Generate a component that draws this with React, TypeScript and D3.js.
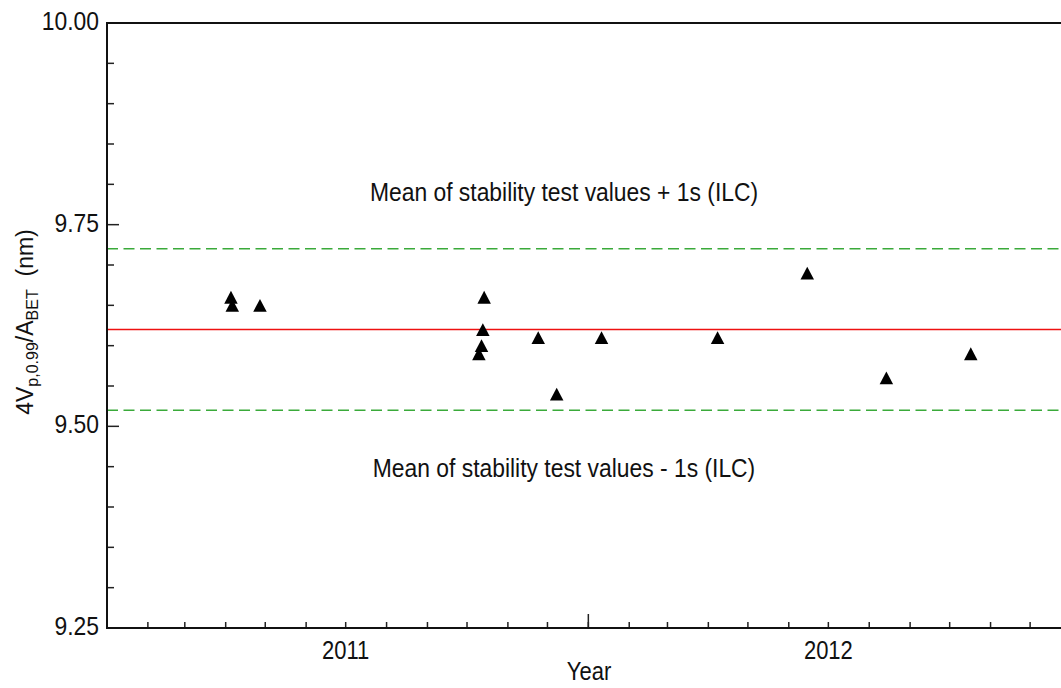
import React from "react";
import * as d3 from "d3";

// Measurement dates and the corresponding 4Vp/ABET values (nm)
const sampleDates: string[] = [
  "2011-04-05", "2011-04-06", "2011-04-27",
  "2011-10-14", "2011-10-13", "2011-10-12", "2011-10-10",
  "2011-11-24", "2011-12-08", "2012-01-11", "2012-04-08",
  "2012-06-15", "2012-08-14", "2012-10-17",
];
const sampleValues: number[] = [
  9.66, 9.65, 9.65,
  9.66, 9.62, 9.60, 9.59,
  9.61, 9.54, 9.61, 9.61,
  9.69, 9.56, 9.59,
];

// Reference lines
const meanValue = 9.62;
const upperLimit = 9.72;
const lowerLimit = 9.52;
const upperLabel = "Mean of stability test values + 1s (ILC)";
const lowerLabel = "Mean of stability test values - 1s (ILC)";

// Axes
const xDomain: string[] = ["2011-01-01", "2013-01-01"];
const yDomain: number[] = [9.25, 10.0];
const yTickLabels: number[] = [9.25, 9.5, 9.75, 10.0];
const yMinorStep = 0.05;
const yearLabels: number[] = [2011, 2012];

const W = 1061;
const H = 688;
const left = 107;
const right = 1071;
const top = 23;
const bottom = 628;
const FONT = "'Liberation Sans', Arial, sans-serif";
const SX = 0.88; // horizontal squeeze of the text glyphs

const parse = d3.utcParse("%Y-%m-%d");

export default function App() {
  const x = d3
    .scaleUtc()
    .domain(xDomain.map((d) => parse(d) as Date))
    .range([left, right]);
  const y = d3.scaleLinear().domain(yDomain).range([bottom, top]);

  const yMinor = d3.range(yDomain[0], yDomain[1] + 1e-9, yMinorStep);
  const monthTicks = d3.utcMonth.range(x.domain()[0], x.domain()[1]);
  const yearTicks = d3.utcYear.range(x.domain()[0], x.domain()[1]);

  const triangle = (cx: number, cy: number) => {
    const w = 13.5;
    const h = 12.8;
    return `M${cx},${cy - h / 2}L${cx + w / 2},${cy + h / 2}L${cx - w / 2},${cy + h / 2}Z`;
  };

  const hText = (
    key: string,
    tx: number,
    ty: number,
    text: string,
    anchor: "start" | "middle" | "end",
    size: number
  ) => (
    <text
      key={key}
      transform={`translate(${tx},${ty}) scale(${SX},1)`}
      textAnchor={anchor}
      fontSize={size}
      fontFamily={FONT}
      fill="#111"
    >
      {text}
    </text>
  );

  return (
    <svg
      width={W}
      height={H}
      style={{ position: "absolute", left: 0, top: 0, background: "#fff" }}
    >
      {/* reference lines */}
      <line
        x1={left}
        x2={right}
        y1={y(upperLimit)}
        y2={y(upperLimit)}
        stroke="#3aaa3a"
        strokeWidth={1.5}
        strokeDasharray="11,5.5"
      />
      <line
        x1={left}
        x2={right}
        y1={y(lowerLimit)}
        y2={y(lowerLimit)}
        stroke="#3aaa3a"
        strokeWidth={1.5}
        strokeDasharray="11,5.5"
      />
      <line
        x1={left}
        x2={right}
        y1={y(meanValue)}
        y2={y(meanValue)}
        stroke="#ee1111"
        strokeWidth={1.5}
      />

      {hText("ul", 564, 201, upperLabel, "middle", 26)}
      {hText("ll", 564, 477, lowerLabel, "middle", 26)}

      {/* data points */}
      {sampleDates.map((d, i) => (
        <path
          key={d + i}
          d={triangle(x(parse(d) as Date), y(sampleValues[i]))}
          fill="#000"
        />
      ))}

      {/* y axis ticks */}
      {yMinor.map((v, i) => {
        const isMajor = yTickLabels.some((t) => Math.abs(t - v) < 1e-6);
        return (
          <line
            key={"ym" + i}
            x1={left}
            x2={left + (isMajor ? 12 : 7)}
            y1={y(v)}
            y2={y(v)}
            stroke="#222"
            strokeWidth={1.5}
          />
        );
      })}
      {yTickLabels.map((v) =>
        hText("yl" + v, 99, y(v) + 7, d3.format(".2f")(v), "end", 26)
      )}

      {/* x axis ticks */}
      {monthTicks.map((m, i) => (
        <line
          key={"xm" + i}
          x1={x(m)}
          x2={x(m)}
          y1={bottom}
          y2={bottom - 6}
          stroke="#222"
          strokeWidth={1.5}
        />
      ))}
      {yearTicks.map((m, i) => (
        <line
          key={"xy" + i}
          x1={x(m)}
          x2={x(m)}
          y1={bottom}
          y2={bottom - 14}
          stroke="#222"
          strokeWidth={1.5}
        />
      ))}
      {yearLabels.map((yr) =>
        hText(
          "xl" + yr,
          x(d3.utcMonth.offset(new Date(Date.UTC(yr, 0, 1)), 6)),
          bottom + 31,
          String(yr),
          "middle",
          25
        )
      )}
      {hText("xt", (left + right) / 2, 680, "Year", "middle", 25)}

      {/* y axis title */}
      <text
        transform={`translate(33,322) rotate(-90)`}
        textAnchor="middle"
        fontSize={23}
        fontFamily={FONT}
        fill="#111"
      >
        4V
        <tspan fontSize={16} dy={5}>p,0.99</tspan>
        <tspan dy={-5}>/A</tspan>
        <tspan fontSize={16} dy={5}>BET</tspan>
        <tspan dy={-5}>{"\u00a0\u00a0(nm)"}</tspan>
      </text>

      {/* frame */}
      <line x1={left} x2={right} y1={top} y2={top} stroke="#111" strokeWidth={2} />
      <line x1={left} x2={right} y1={bottom} y2={bottom} stroke="#111" strokeWidth={2} />
      <line x1={left} x2={left} y1={top - 1} y2={bottom + 1} stroke="#111" strokeWidth={2} />
    </svg>
  );
}
